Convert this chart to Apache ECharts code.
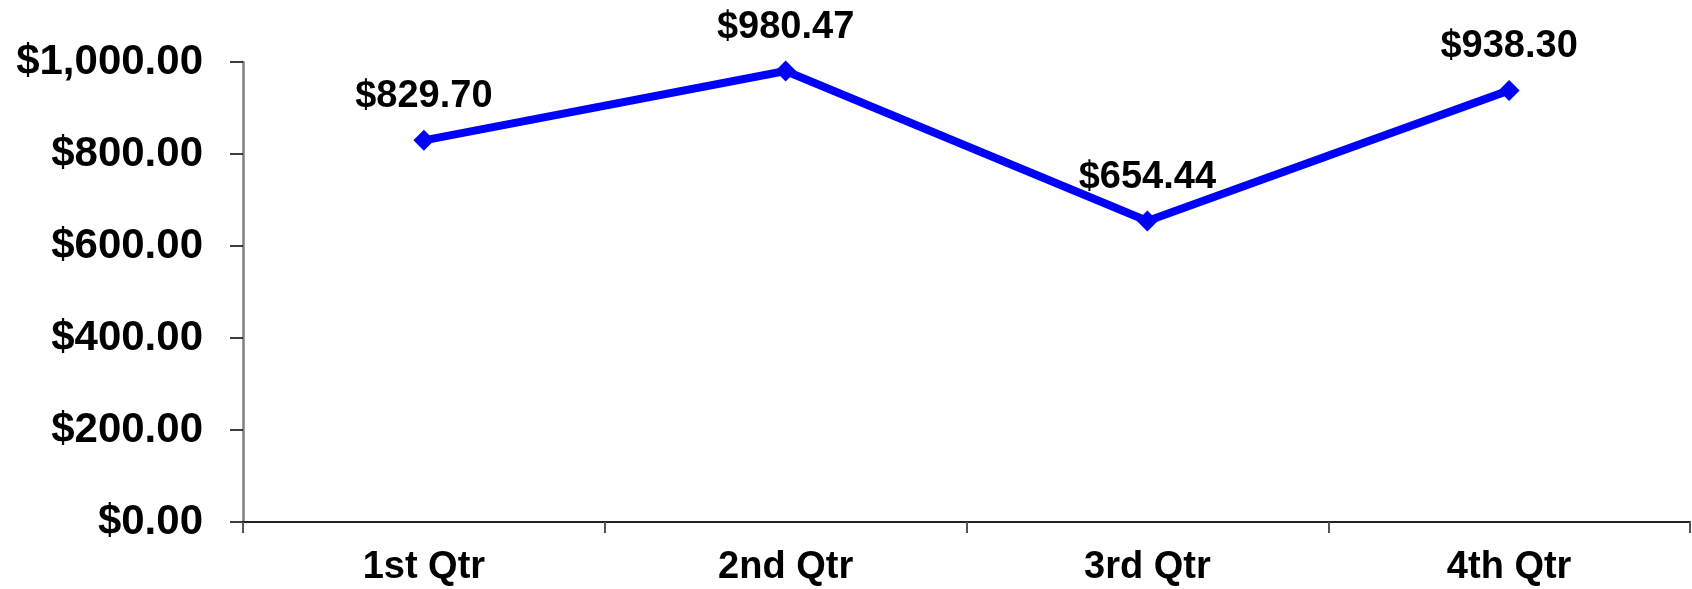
<!DOCTYPE html>
<html>
<head>
<meta charset="utf-8">
<script src="https://cdn.jsdelivr.net/npm/echarts@6/dist/echarts.min.js"></script>
<style>
  html, body { margin: 0; padding: 0; background: #ffffff; }
  #chart { width: 1692px; height: 589px; }
</style>
</head>
<body>
<div id="chart"></div>
<script>
const categories = ['1st Qtr', '2nd Qtr', '3rd Qtr', '4th Qtr'];
const sales = [829.70, 980.47, 654.44, 938.30];
const yMin = 0;
const yMax = 1000;
const yStep = 200;

function money(v) {
  const parts = Number(v).toFixed(2).split('.');
  parts[0] = parts[0].replace(/\B(?=(\d{3})+(?!\d))/g, ',');
  return '$' + parts.join('.');
}

const FONT = "'Liberation Sans', Arial, sans-serif";
const chart = echarts.init(document.getElementById('chart'), null, { renderer: 'canvas' });
chart.setOption({
  animation: false,
  backgroundColor: '#ffffff',
  grid: { left: 243, right: 2, top: 62, bottom: 67, containLabel: false },
  xAxis: {
    type: 'category',
    data: categories,
    boundaryGap: true,
    axisLine: { show: true, lineStyle: { color: '#222222', width: 2 } },
    axisTick: { show: true, length: 11, lineStyle: { color: '#555555', width: 2 } },
    axisLabel: { margin: 27, color: '#000000', fontSize: 38, fontWeight: 'bold', fontFamily: FONT },
    splitLine: { show: false }
  },
  yAxis: {
    type: 'value',
    min: yMin,
    max: yMax,
    interval: yStep,
    axisLine: { show: true, lineStyle: { color: '#808080', width: 2.5 } },
    axisTick: { show: true, length: 13, lineStyle: { color: '#000000', width: 1.5 } },
    axisLabel: { margin: 40, color: '#000000', fontSize: 42, fontWeight: 'bold', fontFamily: FONT, formatter: money },
    splitLine: { show: false }
  },
  series: [{
    type: 'line',
    data: sales,
    symbol: 'diamond',
    symbolSize: 21,
    lineStyle: { color: '#0000ff', width: 8 },
    itemStyle: { color: '#0000ff' },
    label: {
      show: true,
      position: 'top',
      distance: 14,
      color: '#000000',
      fontSize: 38,
      fontWeight: 'bold',
      fontFamily: FONT,
      formatter: p => money(p.value)
    }
  }]
});
</script>
</body>
</html>
